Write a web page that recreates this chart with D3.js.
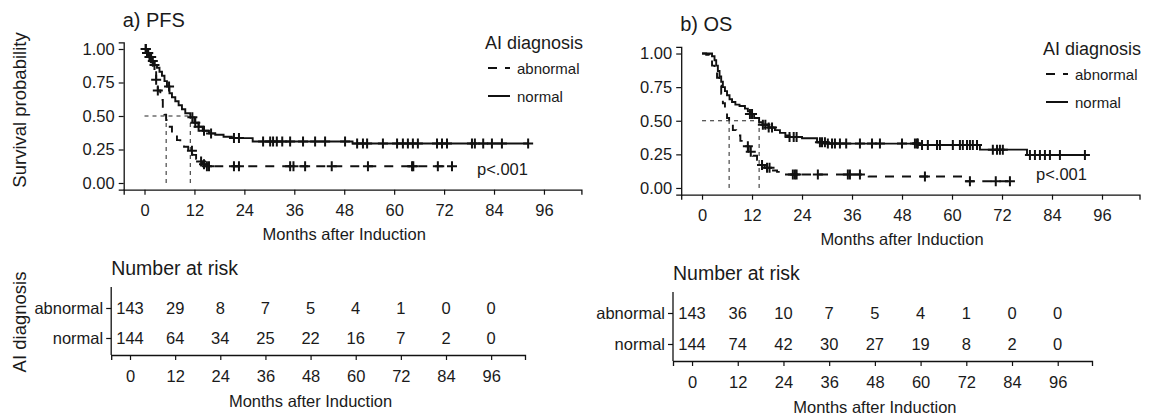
<!DOCTYPE html>
<html>
<head>
<meta charset="utf-8">
<script src="https://cdn.jsdelivr.net/npm/d3@7"></script>
<style>
  body { margin: 0; background: #fff; }
  text { font-family: "Liberation Sans", Arial, sans-serif; fill: #1a1a1a; }
</style>
</head>
<body>
<div id="chart"></div>
<script>
// ---- data ----
const monthTicks = [0, 12, 24, 36, 48, 60, 72, 84, 96];
const survTicks = [0, 0.25, 0.5, 0.75, 1];
const groups = ["abnormal", "normal"];

// PFS, abnormal
const pfsAbnTime = [0, 0.5, 1.0, 1.5, 2.0, 2.8, 3.2, 3.8, 4.4, 4.8, 5.2, 5.8, 6.6, 7.8, 8.6, 9.5, 10.5, 11.6, 12.4, 13.2, 14.0, 15.0];
const pfsAbnSurv = [1.0, 0.97, 0.94, 0.90, 0.85, 0.77, 0.69, 0.62, 0.56, 0.51, 0.47, 0.42, 0.37, 0.32, 0.29, 0.27, 0.24, 0.21, 0.18, 0.16, 0.14, 0.125];
const pfsAbnCensor = [0.3, 0.8, 1.2, 2.8, 3.2, 11.4, 13.6, 14.3, 15.0, 15.5, 21.5, 22.7, 35, 35.8, 38.6, 45, 53.7, 64.3, 64.6, 70.5, 73.9];
const pfsAbnEnd = 73.9;

// PFS, normal
const pfsNorTime = [0, 0.6, 1.2, 1.8, 2.4, 3.0, 3.6, 4.2, 4.8, 5.4, 6.0, 6.6, 7.4, 8.2, 9.0, 9.8, 11.0, 12.0, 13.0, 14.0, 15.5, 17.0, 19.0, 21.0, 26.0, 50.0];
const pfsNorSurv = [1.0, 0.97, 0.94, 0.91, 0.88, 0.86, 0.83, 0.80, 0.76, 0.72, 0.67, 0.64, 0.61, 0.58, 0.55, 0.52, 0.49, 0.45, 0.42, 0.39, 0.37, 0.36, 0.345, 0.335, 0.31, 0.295];
const pfsNorCensor = [0.3, 0.6, 0.9, 1.3, 1.6, 2.0, 2.4, 5.9, 11.5, 12.2, 13.0, 14.3, 16.0, 21.5, 22.7, 28.5, 30.2, 30.9, 31.8, 33.1, 35, 38.1, 41, 43.4, 48.2, 51.1, 52.5, 53.5, 57.3, 60.7, 62.1, 63.3, 64.5, 65.7, 70.3, 71.5, 72.7, 78.7, 79.4, 81.4, 83.5, 85.9, 92.2];
const pfsNorEnd = 92.2;

// OS, abnormal
const osAbnTime = [0, 1.0, 1.8, 2.4, 3.0, 3.6, 4.2, 4.6, 5.0, 5.5, 6.0, 6.5, 7.4, 8.2, 9.2, 10.2, 11.2, 12.2, 13.2, 14.0, 15.0, 16.5, 18.0, 19.5, 40.0, 62.5];
const osAbnSurv = [1.0, 0.99, 0.96, 0.91, 0.87, 0.82, 0.76, 0.70, 0.63, 0.57, 0.52, 0.48, 0.43, 0.39, 0.35, 0.31, 0.27, 0.24, 0.21, 0.17, 0.15, 0.13, 0.12, 0.10, 0.085, 0.05];
const osAbnCensor = [11.0, 11.7, 14.4, 15.6, 16.2, 21.8, 22.3, 22.7, 27.8, 35, 35.5, 37.9, 53.5, 64.3, 70.5, 73.9];
const osAbnEnd = 73.9;

// OS, normal
const osNorTime = [0, 2.4, 3.0, 3.4, 3.8, 4.2, 4.6, 5.0, 5.5, 6.0, 6.6, 7.2, 8.0, 9.0, 10.3, 11.0, 11.5, 12.5, 13.7, 14.5, 16.0, 17.5, 18.7, 20.0, 21.0, 24.0, 27.6, 30.0, 52.0, 66.7, 78.0];
const osNorSurv = [1.0, 0.98, 0.95, 0.91, 0.87, 0.83, 0.79, 0.75, 0.72, 0.69, 0.66, 0.64, 0.62, 0.61, 0.59, 0.57, 0.55, 0.52, 0.49, 0.47, 0.45, 0.43, 0.41, 0.39, 0.38, 0.37, 0.34, 0.33, 0.32, 0.285, 0.245];
const osNorCensor = [11.5, 12, 14.6, 15.2, 16, 16.8, 21, 22, 22.7, 28.3, 28.8, 29.5, 30.2, 31.2, 31.9, 33.1, 34.6, 37.9, 40.8, 42.7, 48, 51.1, 51.6, 51.8, 52.8, 54.2, 56.4, 57.1, 60.2, 61.9, 62.6, 63.6, 64.3, 65, 66, 69.8, 70.8, 71.5, 72.2, 78.7, 79.9, 81.1, 82.3, 83.5, 85.9, 91.9];
const osNorEnd = 92.4;

// numbers at risk
const pfsRiskAbn = [143, 29, 8, 7, 5, 4, 1, 0, 0];
const pfsRiskNor = [144, 64, 34, 25, 22, 16, 7, 2, 0];
const osRiskAbn = [143, 36, 10, 7, 5, 4, 1, 0, 0];
const osRiskNor = [144, 74, 42, 30, 27, 19, 8, 2, 0];

// ---- drawing ----
const W = 1151, H = 418;
const svg = d3.select("#chart").append("svg")
  .attr("width", W).attr("height", H)
  .attr("viewBox", `0 0 ${W} ${H}`);

const DASH = "9,8";

function stepAt(times, surv, t) {
  let i = d3.bisectRight(times, t) - 1;
  return surv[Math.max(0, i)];
}

function median(times, surv) {
  for (let i = 0; i < surv.length; i++) if (surv[i] <= 0.5) return times[i];
  return null;
}

function styleAxis(a) {
  a.select(".domain").attr("stroke", "#111").attr("stroke-width", 1.3);
  a.selectAll(".tick line").attr("stroke", "#111").attr("stroke-width", 1.2);
  a.selectAll(".tick text").style("font-size", "16.5px").attr("fill", "#222");
}

function drawKM(p) {
  const x = d3.scaleLinear().domain([-5, 105]).range([p.x0, p.x1]);
  const y = d3.scaleLinear().domain([-0.05, 1.05]).range([p.y0, p.y1]);
  const g = svg.append("g");

  // axes
  const xa = g.append("g").attr("transform", `translate(0,${p.y0})`)
    .call(d3.axisBottom(x).tickValues(monthTicks).tickSize(5).tickPadding(10));
  const ya = g.append("g").attr("transform", `translate(${p.x0},0)`)
    .call(d3.axisLeft(y).tickValues(survTicks).tickSize(5).tickPadding(4).tickFormat(d3.format(".2f")));
  styleAxis(xa);
  styleAxis(ya);

  g.append("text").attr("x", (x(0) + x(96)) / 2).attr("y", p.y0 + 50)
    .attr("text-anchor", "middle").style("font-size", "16.5px").text("Months after Induction");
  g.append("text").attr("x", p.x0 - 1).attr("y", p.titleY)
    .style("font-size", "20px").text(p.title);

  // median lines
  const m = p.curves.map(c => median(c.time, c.surv));
  g.append("line").attr("x1", x(0)).attr("x2", x(d3.max(m)))
    .attr("y1", y(0.5)).attr("y2", y(0.5))
    .attr("stroke", "#222").attr("stroke-width", 1).attr("stroke-dasharray", "4,4");
  g.selectAll(".med").data(m).enter().append("line")
    .attr("x1", d => x(d)).attr("x2", d => x(d))
    .attr("y1", y(0)).attr("y2", y(0.5))
    .attr("stroke", "#222").attr("stroke-width", 1).attr("stroke-dasharray", "4,4");

  // curves
  const line = d3.line().x(d => x(d[0])).y(d => y(d[1])).curve(d3.curveStepAfter);
  p.curves.forEach(c => {
    const pts = c.time.map((t, i) => [t, c.surv[i]]);
    pts.push([c.end, c.surv[c.surv.length - 1]]);
    g.append("path").datum(pts).attr("d", line)
      .attr("fill", "none").attr("stroke", "#111").attr("stroke-width", 1.9)
      .attr("stroke-dasharray", c.dashed ? DASH : null);
    const cs = g.append("g");
    c.censor.forEach(t => {
      const cx = x(t), cy = y(stepAt(c.time, c.surv, t));
      cs.append("path").attr("d", `M${cx - 5},${cy}H${cx + 5}M${cx},${cy - 5}V${cy + 5}`)
        .attr("stroke", "#111").attr("stroke-width", 2);
    });
  });

  // legend
  const L = p.legend;
  g.append("text").attr("x", L.x).attr("y", L.y).style("font-size", "18px").text("AI diagnosis");
  groups.forEach((name, i) => {
    const ky = L.y + 19 + i * 28;
    g.append("line").attr("x1", L.x + 3).attr("x2", L.x + 25).attr("y1", ky).attr("y2", ky)
      .attr("stroke", "#111").attr("stroke-width", 2)
      .attr("stroke-dasharray", i === 0 ? DASH : null);
    g.append("text").attr("x", L.x + 32).attr("y", ky + 6).style("font-size", "15px").text(name);
  });

  g.append("text").attr("x", p.pX).attr("y", p.pY).style("font-size", "16.5px").text("p<.001");
}

function drawRisk(p) {
  const x = d3.scaleLinear().domain([-5, 105]).range([p.x0, p.x1]);
  const y = d3.scalePoint().domain(groups).range([p.rowA, p.rowB]);
  const g = svg.append("g");

  const xa = g.append("g").attr("transform", `translate(0,${p.y0})`)
    .call(d3.axisBottom(x).tickValues(monthTicks).tickSize(5).tickPadding(10));
  const ya = g.append("g").attr("transform", `translate(${p.x0},0)`)
    .call(d3.axisLeft(y).tickSize(5).tickPadding(3));
  styleAxis(xa);
  styleAxis(ya);
  ya.select(".domain").attr("d", `M0,${p.yTop}V${p.y0}`);

  [p.abn, p.nor].forEach((vals, gi) => {
    g.selectAll(".n" + gi).data(vals).enter().append("text")
      .attr("x", (d, i) => x(monthTicks[i]))
      .attr("y", y(groups[gi]))
      .attr("dy", "0.35em").attr("text-anchor", "middle")
      .style("font-size", "16.5px").text(d => d);
  });

  g.append("text").attr("x", p.x0).attr("y", p.titleY).style("font-size", "19.5px").text("Number at risk");
  g.append("text").attr("x", (x(0) + x(96)) / 2).attr("y", p.y0 + 52)
    .attr("text-anchor", "middle").style("font-size", "16.5px").text("Months after Induction");
}

drawKM({
  x0: 123.7, x1: 581.4, y0: 189.7, y1: 42.3, title: "a) PFS", titleY: 27,
  curves: [
    { time: pfsAbnTime, surv: pfsAbnSurv, censor: pfsAbnCensor, end: pfsAbnEnd, dashed: true },
    { time: pfsNorTime, surv: pfsNorSurv, censor: pfsNorCensor, end: pfsNorEnd, dashed: false }
  ],
  legend: { x: 485, y: 49 }, pX: 477, pY: 175
});

drawKM({
  x0: 681.2, x1: 1139.5, y0: 194.7, y1: 46.8, title: "b) OS", titleY: 31,
  curves: [
    { time: osAbnTime, surv: osAbnSurv, censor: osAbnCensor, end: osAbnEnd, dashed: true },
    { time: osNorTime, surv: osNorSurv, censor: osNorCensor, end: osNorEnd, dashed: false }
  ],
  legend: { x: 1043, y: 55 }, pX: 1036, pY: 180
});

svg.append("text").attr("transform", "translate(26,110) rotate(-90)")
  .attr("text-anchor", "middle").style("font-size", "18.5px").text("Survival probability");
svg.append("text").attr("transform", "translate(26,322) rotate(-90)")
  .attr("text-anchor", "middle").style("font-size", "18.5px").text("AI diagnosis");

drawRisk({ x0: 111.2, x1: 525, y0: 355, yTop: 287, rowA: 308, rowB: 338, titleY: 275, abn: pfsRiskAbn, nor: pfsRiskNor });
drawRisk({ x0: 673, x1: 1092, y0: 361, yTop: 292, rowA: 313, rowB: 344, titleY: 280, abn: osRiskAbn, nor: osRiskNor });
</script>
</body>
</html>
